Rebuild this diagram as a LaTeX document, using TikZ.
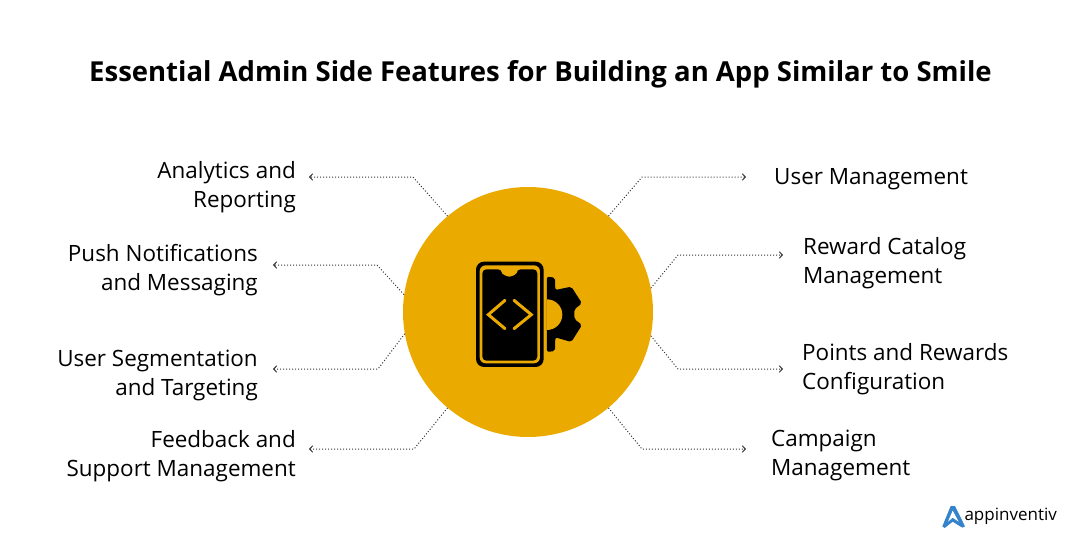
\documentclass[tikz,border=0pt]{standalone}
\usepackage{fontspec}
\setmainfont{Open Sans}
\usetikzlibrary{positioning,arrows.meta}
\definecolor{hubyellow}{HTML}{EBAA00}
\definecolor{logoblue}{HTML}{3583CB}
\begin{document}
\begin{tikzpicture}[
x=1pt,
y=-1pt,
lefttext/.style={
  align=right,
  anchor=east,
  inner sep=0pt,
  font=\fontsize{22.45}{29}\selectfont
  },
righttext/.style={
  align=left,
  anchor=west,
  inner sep=0pt,
  font=\fontsize{22.45}{29}\selectfont
  },
link/.style={
  draw=black!80,
  dotted,
  line width=1pt,
  ->
  },
>={Straight Barb[length=3pt,width=6.5pt]}
]
\useasboundingbox (0,0) rectangle (1080,549);
\node[font=\fontsize{27.5}{32}\selectfont\bfseries,inner sep=0pt] (title) at (540.5,74)
  {Essential Admin Side Features for Building an App Similar to Smile};
\node[circle,fill=hubyellow,minimum size=250pt,inner sep=0pt] (hub) at (528,312) {};

% left side
\node[lefttext] (analytics) at (296,187.5) {Analytics and\\Reporting};
\node[lefttext] (push) at (258,270.5) {Push Notifications\\and Messaging};
\node[lefttext] (segment) at (258,375.5) {User Segmentation\\and Targeting};
\node[lefttext] (feedback) at (296,456.5) {Feedback and\\Support Management};
% right side
\node[righttext] (users) at (774,179.5) {User Management};
\node[righttext] (catalog) at (803,263.5) {Reward Catalog\\Management};
\node[righttext] (points) at (802,369.5) {Points and Rewards\\Configuration};
\node[righttext] (campaign) at (771,455.5) {Campaign\\Management};

% elbows and tips
\coordinate (analyticsbend) at (413,177);
\coordinate (analyticstip) at (309,177);
\coordinate (pushbend) at (377,265);
\coordinate (pushtip) at (273,265);
\coordinate (segmentbend) at (378,369);
\coordinate (segmenttip) at (273,369);
\coordinate (feedbackbend) at (414,449);
\coordinate (feedbacktip) at (309,449);
\coordinate (usersbend) at (642,177);
\coordinate (userstip) at (746,177);
\coordinate (catalogbend) at (678,255);
\coordinate (catalogtip) at (783,255);
\coordinate (pointsbend) at (678,369);
\coordinate (pointstip) at (783,369);
\coordinate (campaignbend) at (642,449);
\coordinate (campaigntip) at (746,449);

\draw[link] (hub.130) -- (analyticsbend) -- (analyticstip);
\draw[link] (hub.172) -- (pushbend) -- (pushtip);
\draw[link] (hub.190) -- (segmentbend) -- (segmenttip);
\draw[link] (hub.230) -- (feedbackbend) -- (feedbacktip);
\draw[link] (hub.50) -- (usersbend) -- (userstip);
\draw[link] (hub.11) -- (catalogbend) -- (catalogtip);
\draw[link] (hub.349) -- (pointsbend) -- (pointstip);
\draw[link] (hub.310) -- (campaignbend) -- (campaigntip);

% phone and gear
\begin{scope}[shift={(450,240)},x=.3333pt,y=-.3333pt]
\fill[black,rounded corners=8pt] (78,65) rectangle (281,381);
\fill[hubyellow,rounded corners=6pt] (89,76) rectangle (270,370);
\fill[black,rounded corners=4pt] (97,88) -- (156,88) arc[start angle=180,end angle=360,x radius=22,y radius=-22] -- (262,88) -- (262,362) -- (97,362) -- cycle;
\draw[hubyellow,line width=3pt,line cap=round,line join=miter] (165,181) -- (115,224) -- (165,266);
\draw[hubyellow,line width=3pt,line cap=round,line join=miter] (192,181) -- (244,224) -- (192,266);
\fill[black,rounded corners=2pt] (291,110) -- (315,113) -- (316,150) -- (364,140) -- (396,190) -- (373,208) -- (373,237) -- (396,255) -- (364,306) -- (316,292) -- (315,333) -- (291,336) -- cycle;
\fill[hubyellow] (291,178) arc[start angle=90,end angle=-90,x radius=46,y radius=-46] -- cycle;
\end{scope}

% logo
\begin{scope}[shift={(930,495)},x=.3333pt,y=-.3333pt]
\fill[logoblue] (37,94) -- (62,33) -- (75,33) -- (105,94) -- (97,98) -- (68,80) -- (44,99) -- cycle;
\fill[white] (54,80) -- (68,47) -- (86,80) -- (68,68) -- cycle;
\node[font=\fontsize{17}{18}\selectfont,inner sep=0pt,anchor=base west] (brand) at (103,77) {appinventiv};
\end{scope}
\end{tikzpicture}
\end{document}
